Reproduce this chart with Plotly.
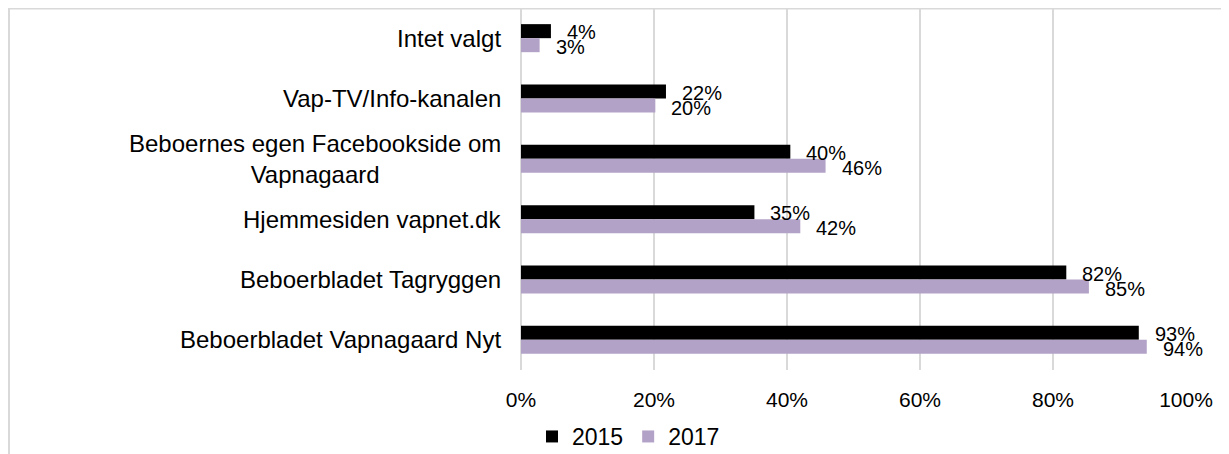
import plotly.graph_objects as go

categories = ["Intet valgt", "Vap-TV/Info-kanalen",
              "Beboernes egen Facebookside om<br>Vapnagaard",
              "Hjemmesiden vapnet.dk", "Beboerbladet Tagryggen",
              "Beboerbladet Vapnagaard Nyt"]
values_2015 = [4.5, 21.8, 40.5, 35.1, 82.0, 92.9]
values_2017 = [2.8, 20.2, 45.8, 42.0, 85.4, 94.1]
labels_2015 = ["4%", "22%", "40%", "35%", "82%", "93%"]
labels_2017 = ["3%", "20%", "46%", "42%", "85%", "94%"]
x_ticks = [0, 20, 40, 60, 80, 100]
x_tick_labels = ["0%", "20%", "40%", "60%", "80%", "100%"]

BLACK = "#000000"
PURPLE = "#B3A2C7"
GRID = "#D9D9D9"
TXT = "Liberation Sans, Arial, sans-serif"

# figure is placed at (8, 8) in the page by the default body margin
W, H = 1229, 454
ML, MR, MT, MB = 513, 51, 0, 92
PW, PH = W - ML - MR, H - MT - MB

def px_x(p):
    return (p - ML) / PW

def px_y(p):
    return (H - MB - p) / PH

fig = go.Figure()
fig.add_trace(go.Bar(y=categories, x=values_2015, name="2015", orientation="h",
                     marker=dict(color=BLACK, line=dict(width=0))))
fig.add_trace(go.Bar(y=categories, x=values_2017, name="2017", orientation="h",
                     marker=dict(color=PURPLE, line=dict(width=0))))

ann = []
for c, v, l in zip(categories, values_2015, labels_2015):
    ann.append(dict(x=v, y=c, xref="x", yref="y", text=l, showarrow=False,
                    xanchor="left", yanchor="middle", xshift=14, yshift=6,
                    font=dict(family=TXT, size=20, color="#000")))
for c, v, l in zip(categories, values_2017, labels_2017):
    ann.append(dict(x=v, y=c, xref="x", yref="y", text=l, showarrow=False,
                    xanchor="left", yanchor="middle", xshift=14, yshift=-9,
                    font=dict(family=TXT, size=20, color="#000")))
for c in categories:
    ann.append(dict(x=0, y=c, xref="paper", yref="y", text=c, showarrow=False,
                    xanchor="right", yanchor="middle", xshift=-18, align="center",
                    font=dict(family=TXT, size=24, color="#000")))

shapes = [
    dict(type="line", xref="paper", yref="paper", x0=px_x(0), x1=px_x(W + 5),
         y0=px_y(0.75), y1=px_y(0.75), line=dict(color=GRID, width=1.5), layer="below"),
    dict(type="line", xref="paper", yref="paper", x0=px_x(1), x1=px_x(1),
         y0=px_y(0), y1=px_y(H + 5), line=dict(color=GRID, width=2), layer="below"),
]

fig.update_layout(
    width=W, height=H,
    margin=dict(l=ML, r=MR, t=MT, b=MB, pad=0),
    paper_bgcolor="white", plot_bgcolor="white",
    barmode="group", bargap=0.535, bargroupgap=0,
    annotations=ann, shapes=shapes,
    showlegend=True,
    legend=dict(orientation="h", x=px_x(524), xanchor="left",
                y=px_y(407), yanchor="top", bgcolor="rgba(0,0,0,0)",
                font=dict(family=TXT, size=23, color="#000"),
                itemwidth=30, traceorder="normal"),
    xaxis=dict(range=[0, 100], tickvals=x_ticks, ticktext=x_tick_labels,
               showgrid=True, gridcolor=GRID, gridwidth=2,
               zeroline=True, zerolinecolor=GRID, zerolinewidth=2,
               showline=False, ticks="", ticklabelstandoff=15,
               tickfont=dict(family=TXT, size=21, color="#000")),
    yaxis=dict(autorange="reversed", showticklabels=False, showgrid=False,
               zeroline=False, showline=False, ticks=""),
)

fig.write_html("out.html")
